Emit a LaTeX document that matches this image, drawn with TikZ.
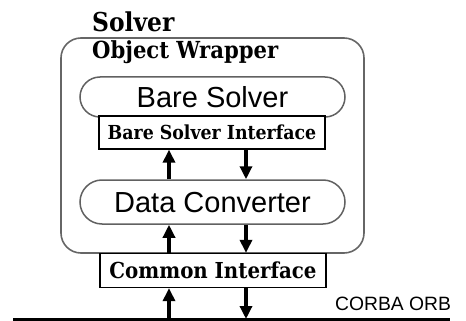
\documentclass[tikz,border=0pt]{standalone}
\usepackage{fontspec}
\usetikzlibrary{arrows.meta}
\setmainfont{DejaVu Serif Condensed}[BoldFont={DejaVu Serif Condensed Bold}]
\newfontfamily\helv{Liberation Sans}
\newcommand\fs[1]{\fontsize{#1}{#1}\selectfont}

\begin{document}
\begin{tikzpicture}[x=1pt,y=-1pt,
  frame/.style={draw=black!60, line width=1.6pt, rounded corners=20pt,
    minimum width=303pt, minimum height=215pt, inner sep=0pt},
  pill/.style={draw=black!62, fill=white, line width=1.5pt, minimum width=265pt,
    inner sep=0pt, font=\helv\fs{29}, text height=20.8pt, text depth=0pt},
  iface/.style={draw=black, fill=white, line width=1.3pt, minimum width=226pt,
    inner sep=0pt, text depth=0pt},
  caption/.style={anchor=base west, inner sep=0pt},
  flow/.style={line width=4pt, -{Triangle[length=13pt,width=12pt]}},
  bus/.style={line width=3pt}]
\useasboundingbox (0,0) rectangle (466,321);

% outer wrapper frame and its captions
\node[frame] (wrap) at (212.5,145.5) {};
\node[caption, font=\bfseries\fs{26}] (solver) at (92,32) {Solver};
\node[caption, font=\bfseries\fs{23.5}] (wraplabel) at (92,59) {Object Wrapper};

% inner components
\node[pill, minimum height=40pt, rounded corners=20pt] (bare) at (212.5,97) {Bare Solver};
\node[iface, minimum height=33pt, font=\bfseries\fs{19.3}, text height=14.1pt] (bsi) at (212,132.5) {Bare Solver Interface};
\node[pill, minimum height=44pt, rounded corners=22pt] (conv) at (212.5,202) {Data Converter};
\node[iface, minimum height=34pt, font=\bfseries\fs{22}, text height=16pt] (ci) at (213,270.5) {Common Interface};

% ORB bus
\coordinate (orbW) at (13,319);
\coordinate (orbE) at (450,319);
\draw[bus] (orbW) -- (orbE);
\node[anchor=base west, inner sep=0pt, font=\helv\fs{19.3}] (orb) at (335,310) {CORBA ORB};

% data flow: up on the left, down on the right
\coordinate (lx) at (169,0);
\coordinate (rx) at (246,0);
\draw[flow] (conv.north -| lx) -- (bsi.south -| lx);
\draw[flow] (bsi.south -| rx) -- (conv.north -| rx);
\draw[flow] (ci.north -| lx) -- (conv.south -| lx);
\draw[flow] (conv.south -| rx) -- (ci.north -| rx);
\draw[flow] (orbW -| lx) -- (ci.south -| lx);
\draw[flow] (ci.south -| rx) -- (orbW -| rx);
\end{tikzpicture}
\end{document}
